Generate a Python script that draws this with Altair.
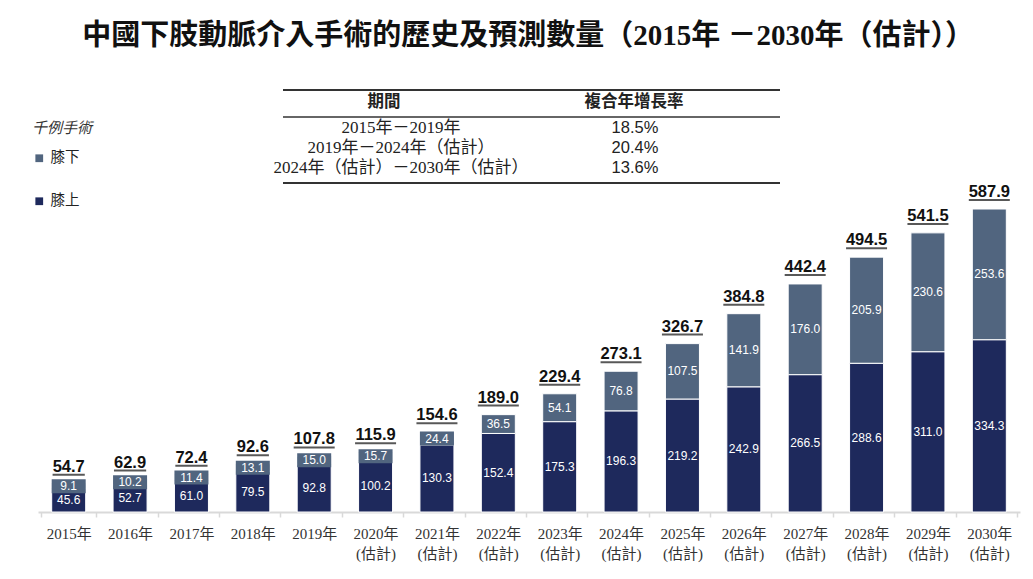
import altair as alt
import pandas as pd

categories = ["2015年", "2016年", "2017年", "2018年", "2019年",
              "2020年\n(估計)", "2021年\n(估計)", "2022年\n(估計)", "2023年\n(估計)",
              "2024年\n(估計)", "2025年\n(估計)", "2026年\n(估計)", "2027年\n(估計)",
              "2028年\n(估計)", "2029年\n(估計)", "2030年\n(估計)"]
above_knee = [45.6, 52.7, 61.0, 79.5, 92.8, 100.2, 130.3, 152.4, 175.3, 196.3,
              219.2, 242.9, 266.5, 288.6, 311.0, 334.3]
below_knee = [9.1, 10.2, 11.4, 13.1, 15.0, 15.7, 24.4, 36.5, 54.1, 76.8,
              107.5, 141.9, 176.0, 205.9, 230.6, 253.6]
totals = [54.7, 62.9, 72.4, 92.6, 107.8, 115.9, 154.6, 189.0, 229.4, 273.1,
          326.7, 384.8, 442.4, 494.5, 541.5, 587.9]
series_names = ["膝下", "膝上"]
series_colors = ["#51657F", "#1E295C"]
table_headers = ["期間", "複合年增長率"]
table_periods = ["2015年－2019年", "2019年－2024年（估計）", "2024年（估計）－2030年（估計）"]
table_cagr = ["18.5%", "20.4%", "13.6%"]
title_text = "中國下肢動脈介入手術的歷史及預測數量（2015年 －2030年（估計））"
legend_title = "千例手術"

n = len(categories)
seg = pd.DataFrame({
    "cat": categories * 2,
    "series": ["膝上"] * n + ["膝下"] * n,
    "value": above_knee + below_knee,
    "order": [0] * n + [1] * n,
})
tot = pd.DataFrame({"cat": categories, "total": totals})
hdr = pd.DataFrame({"col": table_headers})
rows = pd.DataFrame({"period": table_periods, "cagr": table_cagr})
one = pd.DataFrame({"k": [1]})
ttl = pd.DataFrame({"t": [title_text]})

SERIF = "Liberation Serif, Noto Sans CJK TC"
SANS = "Liberation Sans, Arial, sans-serif"
CJK = "Noto Sans CJK TC"

xs = alt.Scale(domain=categories)
ys = alt.Scale(domain=[0, 877])
xaxis = alt.Axis(
    title=None, labelAngle=0, labelFont=SERIF, labelFontSize=15, labelColor="#333",
    labelLineHeight=20, labelPadding=9, labelExpr="split(datum.label, '\\n')",
    domainColor="#d9d9d9", domainWidth=2, tickColor="#d9d9d9", tickWidth=1.5,
    tickSize=5, tickBand="extent")
X = alt.X("cat:N", scale=xs, sort=categories, axis=xaxis)

bars = alt.Chart(seg).mark_bar(size=34, stroke="white", strokeWidth=1).encode(
    x=X,
    y=alt.Y("value:Q", stack="zero", scale=ys, axis=None),
    color=alt.Color("series:N", scale=alt.Scale(domain=series_names, range=series_colors),
                    legend=alt.Legend(title=legend_title, orient="none", legendX=-6, legendY=61,
                                      titleFont=SERIF, titleFontStyle="italic", titleFontWeight="normal",
                                      titleFontSize=15, titleColor="#333", labelFont=SERIF,
                                      labelFontSize=14.5, labelColor="#222", symbolType="square",
                                      symbolSize=60, symbolStrokeWidth=0, rowPadding=28,
                                      titlePadding=15, labelOffset=4)),
    order=alt.Order("order:Q"),
)

stacked = alt.Chart(seg).transform_stack(
    stack="value", groupby=["cat"], as_=["v0", "v1"], sort=[alt.SortField("order", "ascending")]
).transform_calculate(mid="(datum.v0 + datum.v1) / 2")

boxes = stacked.transform_filter("datum.series == '膝下' && datum.value < 30").mark_tick(
    thickness=14, size=34, color=series_colors[0], opacity=1
).encode(x=X, y=alt.Y("mid:Q", scale=ys, axis=None))

seg_labels = stacked.mark_text(font=SANS, fontSize=12, color="white", baseline="middle").encode(
    x=X, y=alt.Y("mid:Q", scale=ys, axis=None), text=alt.Text("value:Q", format=".1f"))

underline = alt.Chart(tot).transform_calculate(
    ulen="length(format(datum.total, '.1f')) * 8.8 - 3"
).mark_tick(thickness=2, color="#111", yOffset=-9).encode(
    x=X, y=alt.Y("total:Q", scale=ys, axis=None), size=alt.Size("ulen:Q", scale=None))

tot_text = alt.Chart(tot).mark_text(font=SANS, fontSize=16.5, fontWeight="bold", color="#111",
                                    baseline="alphabetic", dy=-12).encode(
    x=X, y=alt.Y("total:Q", scale=ys, axis=None), text=alt.Text("total:Q", format=".1f"))

main = alt.layer(bars, boxes, seg_labels, underline, tot_text)

header = alt.Chart(hdr).mark_text(font=CJK, fontSize=16.5, fontWeight="bold", color="#222",
                                  baseline="middle").encode(
    x=alt.X("col:N", scale=alt.Scale(domain=table_headers, range=[346, 596], padding=0), axis=None),
    y=alt.value(42), text="col:N")

row_y = alt.Y("period:N", scale=alt.Scale(domain=table_periods, range=[68, 108], padding=0), axis=None)
period_text = alt.Chart(rows).mark_text(font=SERIF, fontSize=17, color="#222", baseline="middle").encode(
    x=alt.value(363), y=row_y, text="period:N")
cagr_text = alt.Chart(rows).mark_text(font=SANS, fontSize=16.5, color="#222", baseline="middle").encode(
    x=alt.value(597), y=row_y, text="cagr:N")

title_mark = alt.Chart(ttl).mark_text(font=SERIF, fontSize=29, fontWeight="bold", color="#111",
                                      baseline="alphabetic", align="center").encode(
    x=alt.value(490), y=alt.value(-15), text="t:N")

def hline(yv, w):
    return alt.Chart(one).mark_rule(color="#333", strokeWidth=w).encode(
        x=alt.value(245), x2=alt.value(742), y=alt.value(yv))

chart = alt.layer(main, header, period_text, cagr_text, title_mark,
                  hline(30, 2), hline(57, 1.5), hline(123, 2)).resolve_scale(
    x="independent", y="independent"
).properties(
    width=982, height=452,
    autosize=alt.AutoSizeParams(type="none"),
    padding={"left": 30, "top": 52, "right": 5, "bottom": 59},
    background="white",
).configure_view(stroke=None)

chart.save("out.html", embed_options={"renderer": "svg", "actions": False})
